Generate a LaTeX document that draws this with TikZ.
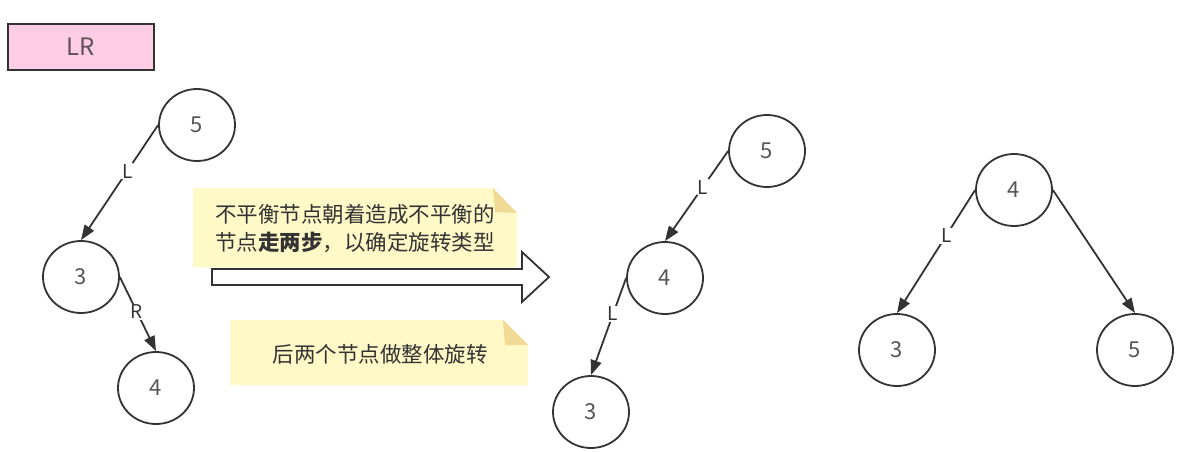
\documentclass[tikz,border=0pt]{standalone}
\usepackage{fontspec}
\setmainfont{Noto Sans CJK SC}
\usetikzlibrary{arrows.meta,shapes.geometric}
\definecolor{ink}{RGB}{51,51,51}
\definecolor{numgray}{RGB}{85,85,85}
\definecolor{lrpink}{RGB}{255,204,230}
\definecolor{notefill}{RGB}{255,249,200}
\definecolor{notefold}{RGB}{240,218,150}

\begin{document}
\begin{tikzpicture}[x=1pt,y=-1pt,
    tnode/.style={draw=ink, line width=1.8pt, ellipse, minimum width=76pt, minimum height=72pt,
      text=numgray, font=\fontsize{22}{26}\selectfont},
    tedge/.style={draw=ink, line width=1.8pt, -{Triangle[length=15pt,width=11pt]}},
    elabel/.style={fill=white, inner sep=1pt, text=ink, font=\fontsize{19}{22}\selectfont},
    notetext/.style={text=ink, align=center, font=\fontsize{21.5}{28}\selectfont}]
  \useasboundingbox (0,0) rectangle (1185,452);

  \node[draw=ink, line width=1.6pt, fill=lrpink, minimum width=146pt, minimum height=46pt,
    text=ink!80!lrpink, font=\fontsize{24}{26}\selectfont] (lr) at (81,47) {LR};

  % before
  \node[tnode] (a5) at (197,125) {5};
  \node[tnode] (a3) at (81,277) {3};
  \node[tnode] (a4) at (156,388) {4};
  \draw[tedge] (a5.west) -- node[elabel, pos=.4] {L} (a3.north);
  \draw[tedge] (a3.east) -- node[elabel, pos=.47] {R} (a4.north);

  % notes
  \fill[notefill] (193,188) -- (493,188) -- (517,213) -- (517,267) -- (193,267) -- cycle;
  \fill[notefold] (493,188) -- (517,213) -- (495,212) -- cycle;
  \node[notetext] (note1) at (355,229) {不平衡节点朝着造成不平衡的\\节点\textbf{走两步}，以确定旋转类型};
  \fill[notefill] (230,320) -- (503,320) -- (528,345) -- (528,385) -- (230,385) -- cycle;
  \fill[notefold] (503,320) -- (528,345) -- (505,345) -- cycle;
  \node[notetext] (note2) at (380,354) {后两个节点做整体旋转};

  \draw[ink, line width=1.8pt, fill=white] (212,269) -- (522,269) -- (522,252) -- (549,277)
    -- (522,302) -- (522,285) -- (212,285) -- cycle;

  % after one step
  \node[tnode] (b5) at (767,151) {5};
  \node[tnode] (b4) at (665,278) {4};
  \node[tnode] (b3) at (591,412) {3};
  \draw[tedge] (b5.west) -- node[elabel, pos=.4] {L} (b4.north);
  \draw[tedge] (b4.west) -- node[elabel, pos=.37] {L} (b3.north);

  % balanced
  \node[tnode] (c4) at (1014,190) {4};
  \node[tnode] (c3) at (897,350) {3};
  \node[tnode] (c5) at (1135,350) {5};
  \draw[tedge] (c4.west) -- node[elabel, pos=.37] {L} (c3.north);
  \draw[tedge] (c4.east) -- (c5.north);
\end{tikzpicture}
\end{document}
